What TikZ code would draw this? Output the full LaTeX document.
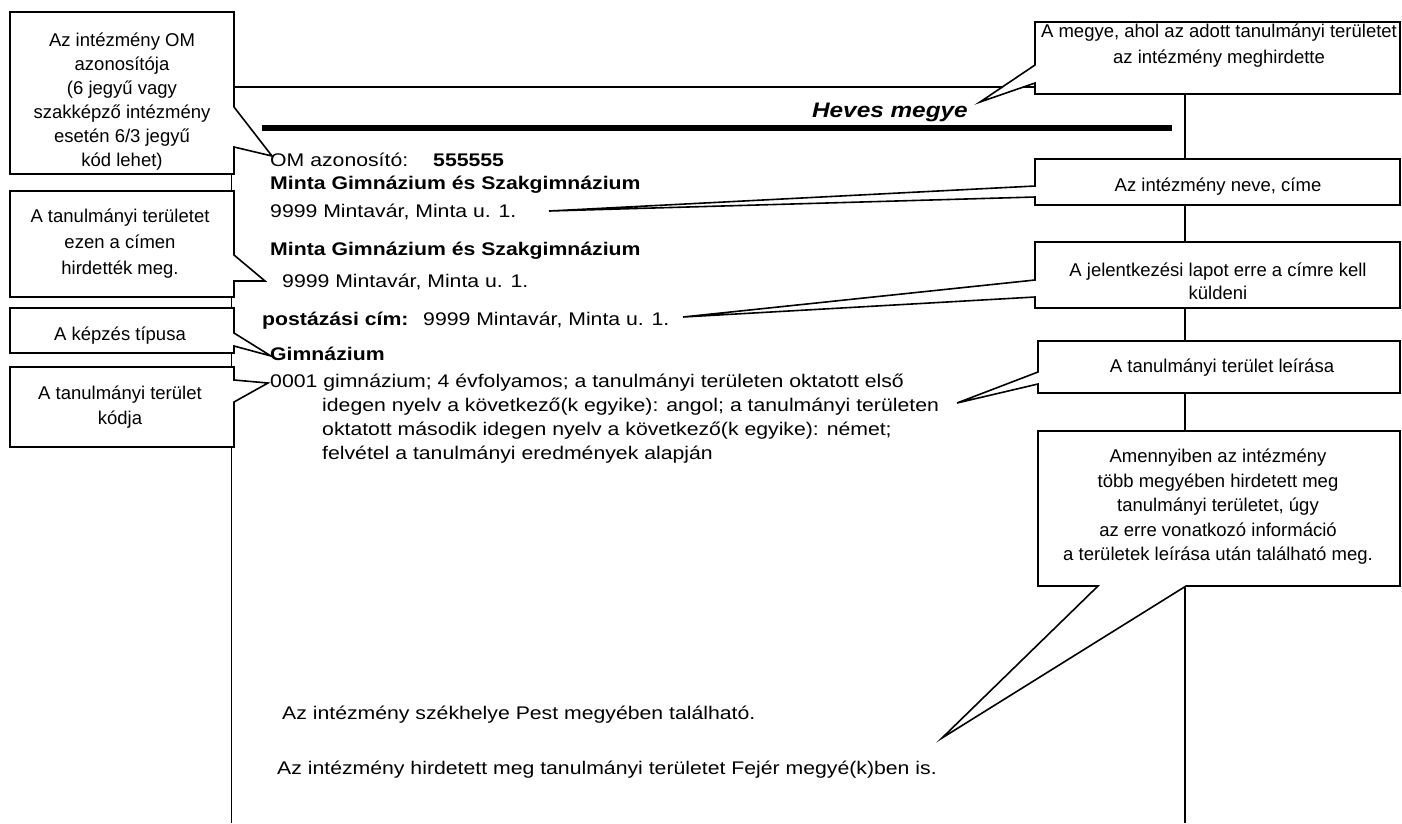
\documentclass[tikz,border=0pt]{standalone}
\usepackage{fontspec}
\setmainfont{Liberation Sans}
\newfontfamily\bodyfont[FakeStretch=1.16]{Liberation Sans}
\begin{document}
\begin{tikzpicture}[x=1pt,y=-1pt,
  pageline/.style={line width=1.6pt},
  callout/.style={draw, line width=1.6pt, fill=white, line join=miter},
  boxtxt/.style={font=\fontsize{18.5}{24}\selectfont, align=center, inner sep=0},
  body/.style={font=\bodyfont\fontsize{18.3}{24}\selectfont, anchor=base west, inner sep=0},
  bodyb/.style={font=\bodyfont\bfseries\fontsize{18.3}{24}\selectfont, anchor=base west, inner sep=0}]
\useasboundingbox (0,0) rectangle (1402,823);
\fill[white] (0,0) rectangle (1402,823);

% page frame
\coordinate (ptl) at (231.5,87);
\coordinate (ptr) at (1185,87);
\coordinate (pbl) at (231.5,823);
\coordinate (pbr) at (1185,823);
\draw[pageline] (pbl) -- (ptl) -- (ptr) -- (pbr);
\coordinate (rulea) at (262,128);
\coordinate (ruleb) at (1172,128);
\draw[line width=6pt] (rulea) -- (ruleb);

% callout tips
\coordinate (tipB1) at (272,156);
\coordinate (tipB2) at (265,281);
\coordinate (tipB3) at (271,356);
\coordinate (tipB4) at (268,383);
\coordinate (tipR1) at (980,102);
\coordinate (tipR2) at (549,211);
\coordinate (tipR3) at (683,317);
\coordinate (tipR4) at (957,403);
\coordinate (tipR5) at (942,738);

% left callouts
\path[callout] (10,12) -- (234,12) -- (234,107) -- (tipB1) -- (234,147) -- (234,174) -- (10,174) -- cycle;
\path[callout] (10,191) -- (234,191) -- (234,255) -- (tipB2) -- (234,281) -- (234,297) -- (10,297) -- cycle;
\path[callout] (10,308) -- (234,308) -- (234,333) -- (tipB3) -- (234,346) -- (234,353) -- (10,353) -- cycle;
\path[callout] (10,367) -- (234,367) -- (234,380) -- (tipB4) -- (234,402) -- (234,447) -- (10,447) -- cycle;

% right callouts
\path[callout] (1035,22) -- (1400,22) -- (1400,94) -- (1035,94) -- (1035,83) -- (tipR1) -- (1035,65) -- cycle;
\path[callout] (1035,159) -- (1400,159) -- (1400,205) -- (1035,205) -- (1035,197) -- (tipR2) -- (1035,186) -- cycle;
\path[callout] (1035,242) -- (1400,242) -- (1400,308) -- (1035,308) -- (1035,297) -- (tipR3) -- (1035,280) -- cycle;
\path[callout] (1038,341) -- (1400,341) -- (1400,393) -- (1038,393) -- (1038,384) -- (tipR4) -- (1038,372) -- cycle;
\path[callout] (1038,431) -- (1400,431) -- (1400,586) -- (1186,586) -- (tipR5) -- (1098,586) -- (1038,586) -- cycle;

% callout texts
\node[boxtxt] (tB1) at (122,101.5) {Az intézmény OM\\azonosítója\\(6 jegyű vagy\\szakképző intézmény\\esetén 6/3 jegyű\\kód lehet)};
\node[boxtxt, font=\fontsize{18.5}{26}\selectfont] (tB2) at (120,244) {A tanulmányi területet\\ezen a címen\\hirdették meg.};
\node[boxtxt] (tB3) at (120,336) {A képzés típusa};
\node[boxtxt, font=\fontsize{18.5}{25}\selectfont] (tB4) at (120,407.5) {A tanulmányi terület\\kódja};
\node[boxtxt, font=\fontsize{18.5}{26}\selectfont] (tR1) at (1219,46) {A megye, ahol az adott tanulmányi területet\\az intézmény meghirdette};
\node[boxtxt] (tR2) at (1218,187) {Az intézmény neve, címe};
\node[boxtxt, font=\fontsize{18.5}{23}\selectfont] (tR3) at (1218,281.5) {A jelentkezési lapot erre a címre kell\\küldeni};
\node[boxtxt] (tR4) at (1222,368) {A tanulmányi terület leírása};
\node[boxtxt, font=\fontsize{18.5}{24.5}\selectfont] (tR5) at (1218,507) {Amennyiben az intézmény\\több megyében hirdetett meg\\tanulmányi területet, úgy\\az erre vonatkozó információ\\a területek leírása után található meg.};

% body texts
\node[font=\bodyfont\bfseries\itshape\fontsize{21}{24}\selectfont, anchor=base east, inner sep=0] (heves) at (968,117) {Heves megye};
\node[body] (om) at (270,166) {OM azonosító:};
\node[bodyb] (omid) at (433,166) {555555};
\node[bodyb] (nev1) at (270,189) {Minta Gimnázium és Szakgimnázium};
\node[body] (cim1) at (270,217) {9999 Mintavár, Minta u. 1.};
\node[bodyb] (nev2) at (270,255) {Minta Gimnázium és Szakgimnázium};
\node[body] (cim2) at (282,287.5) {9999 Mintavár, Minta u. 1.};
\node[bodyb] (post) at (262,325) {postázási cím:};
\node[body] (cim3) at (423,325) {9999 Mintavár, Minta u. 1.};
\node[bodyb] (tipus) at (270,360) {Gimnázium};
\node[body] (kod) at (270,387) {0001 gimnázium; 4 évfolyamos; a tanulmányi területen oktatott első};
\node[body] (leir2) at (322,411) {idegen nyelv a következő(k egyike): angol; a tanulmányi területen};
\node[body] (leir3) at (322,435) {oktatott második idegen nyelv a következő(k egyike): német;};
\node[body] (leir4) at (322,459) {felvétel a tanulmányi eredmények alapján};
\node[body] (szek) at (282,719) {Az intézmény székhelye Pest megyében található.};
\node[body] (fejer) at (277,774) {Az intézmény hirdetett meg tanulmányi területet Fejér megyé(k)ben is.};
\end{tikzpicture}
\end{document}
